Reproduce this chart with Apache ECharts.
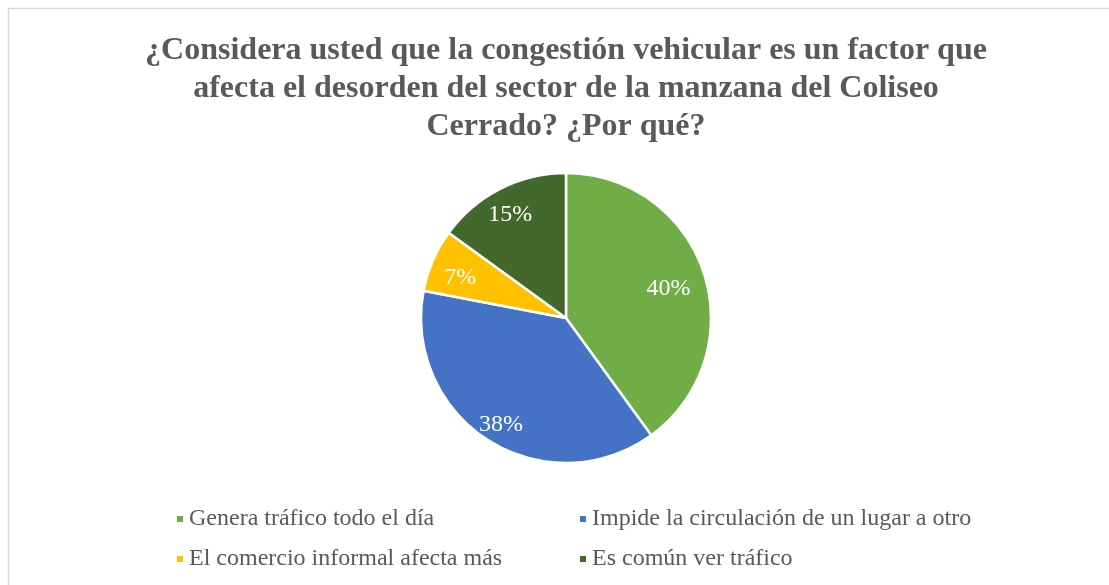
<!DOCTYPE html>
<html>
<head>
<meta charset="utf-8">
<script src="https://cdn.jsdelivr.net/npm/echarts@6/dist/echarts.min.js"></script>
<style>
  html, body { margin: 0; padding: 0; background: #fff; }
  #chart { width: 1109px; height: 585px; }
</style>
</head>
<body>
<div id="chart"></div>
<script>
// Survey answers and their shares (percent)
const categories = [
  'Genera tráfico todo el día',
  'Impide la circulación de un lugar a otro',
  'El comercio informal afecta más',
  'Es común ver tráfico'
];
const shares = [40, 38, 7, 15];
const sliceColors = ['#70AD47', '#4472C4', '#FFC000', '#43682B'];
const titleLines = [
  '¿Considera usted que la congestión vehicular es un factor que',
  'afecta el desorden del sector de la manzana del Coliseo',
  'Cerrado? ¿Por qué?'
];

const serif = '"Liberation Serif", "Times New Roman", serif';
const pieData = categories.map((name, i) => ({
  name: name,
  value: shares[i],
  itemStyle: { color: sliceColors[i] }
}));

// small per-slice nudges of the percentage labels (best-fit placement)
const labelNudge = [[-4, 5], [-5, 12], [-3, 4], [-5, -4]];

const legendText = { fontFamily: serif, fontSize: 24, color: '#595959', padding: [0, 0, 0, 0] };

const chart = echarts.init(document.getElementById('chart'), null, { renderer: 'canvas' });
chart.setOption({
  backgroundColor: '#ffffff',
  animation: false,
  title: {
    text: titleLines.join('\n'),
    left: 561,
    textAlign: 'center',
    top: 27,
    textStyle: {
      fontFamily: serif,
      fontWeight: 'bold',
      fontSize: 32,
      lineHeight: 38,
      color: '#595959'
    }
  },
  graphic: [{
    type: 'rect',
    silent: true,
    shape: { x: 8.5, y: 8.5, width: 1200, height: 700 },
    style: { fill: 'none', stroke: '#d9d9d9', lineWidth: 1.5 }
  }],
  legend: [
    {
      data: [categories[0], categories[2]],
      orient: 'vertical',
      left: 170,
      top: 502,
      itemWidth: 8,
      itemHeight: 8,
      itemGap: 16,
      icon: 'rect',
      textStyle: legendText
    },
    {
      data: [categories[1], categories[3]],
      orient: 'vertical',
      left: 573,
      top: 502,
      itemWidth: 8,
      itemHeight: 8,
      itemGap: 16,
      icon: 'rect',
      textStyle: legendText
    }
  ],
  series: [
    {
      type: 'pie',
      center: [566, 318],
      radius: [0, 145],
      startAngle: 90,
      clockwise: true,
      avoidLabelOverlap: false,
      label: { show: false },
      labelLine: { show: false },
      itemStyle: { borderColor: '#ffffff', borderWidth: 2.5 },
      data: pieData
    },
    {
      // transparent copy that carries the percentage labels further out from the centre
      type: 'pie',
      silent: true,
      center: [566, 318],
      radius: [0, 218],
      startAngle: 90,
      clockwise: true,
      avoidLabelOverlap: false,
      legendHoverLink: false,
      itemStyle: { color: 'rgba(0,0,0,0)', borderWidth: 0 },
      label: {
        show: true,
        position: 'inside',
        fontFamily: serif,
        fontSize: 24,
        color: '#ffffff',
        formatter: p => Math.round(p.percent) + '%'
      },
      labelLine: { show: false },
      data: categories.map((name, i) => ({
        name: name,
        value: shares[i],
        label: { offset: labelNudge[i] }
      }))
    }
  ]
});
</script>
</body>
</html>
